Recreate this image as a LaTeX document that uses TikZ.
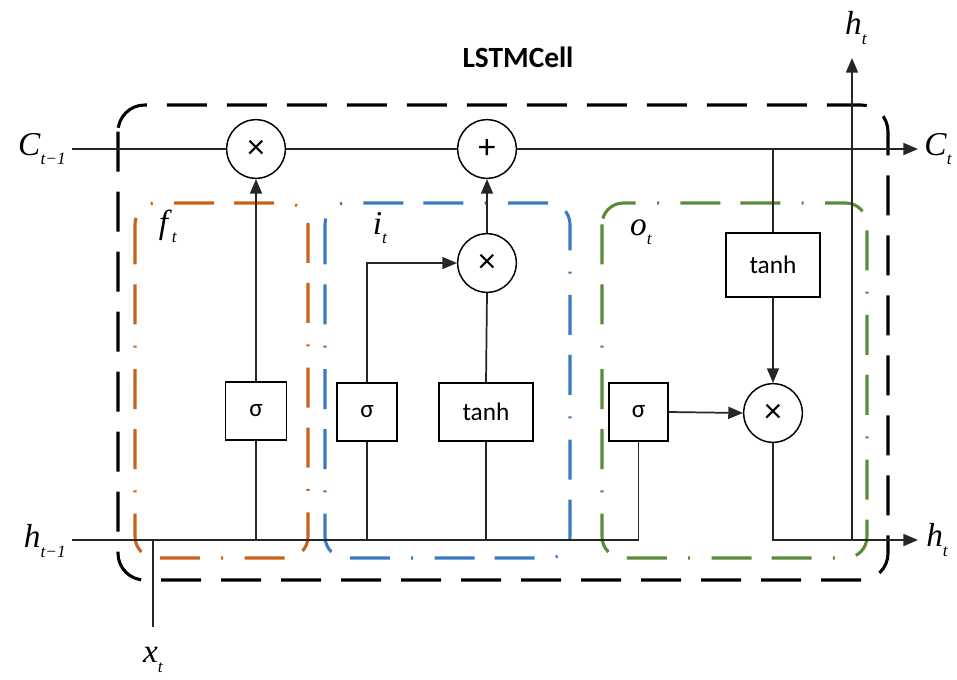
\documentclass[tikz,border=0pt]{standalone}
\usepackage{fontspec}
\setmainfont{Liberation Serif}
\newfontfamily\carl{Carlito}
\usetikzlibrary{arrows.meta}
\definecolor{cOrange}{HTML}{C8621A}
\definecolor{cBlue}{HTML}{3A7BBF}
\definecolor{cGreen}{HTML}{5B8A3A}
\newcommand\vlab[2]{\textit{#1}\raisebox{-0.6ex}{\fontsize{13}{13}\selectfont\textit{#2}}}
\begin{document}
\begin{tikzpicture}[x=0.75pt,y=-0.75pt,
  conn/.style={line width=1.3pt,black!85},
  arr/.style={conn,-{Triangle[length=11pt,width=9pt]}},
  opnode/.style={circle,draw,line width=1.1pt,minimum size=44pt,inner sep=0pt,font=\carl\fontsize{26}{26}\selectfont},
  fbox/.style={rectangle,draw,line width=1.1pt,minimum height=43.5pt,inner sep=0pt,font=\carl\fontsize{19}{19}\selectfont,fill=white},
  cellbox/.style={draw=black,line width=2.3pt,rounded corners=20pt,dash pattern=on 30pt off 15pt},
  gatebox/.style={line width=2.3pt,rounded corners=16pt,dash pattern=on 30pt off 15pt on 30pt off 16pt on 1.5pt off 16pt},
  lab/.style={font=\fontsize{25}{25}\selectfont,inner sep=0pt}
]
\useasboundingbox (0,0) rectangle (957,679);
% boxes
\draw[cellbox] (118,105) rectangle (888,580);
\draw[gatebox,draw=cOrange] (135,203) rectangle (308,558);
\draw[gatebox,draw=cBlue] (325,203) rectangle (570,558);
\draw[gatebox,draw=cGreen] (602,203) rectangle (867,558);
% title
\node[font=\carl\bfseries\fontsize{22}{22}\selectfont] (title) at (518,57) {LSTMCell};
% operators
\node[opnode] (m1) at (256,149) {×};
\node[opnode] (p1) at (487,149) {+};
\node[opnode] (m2) at (487,263) {×};
\node[opnode] (m3) at (773,413) {×};
% function boxes
\node[fbox,minimum width=46pt] (fs) at (256,411) {σ};
\node[fbox,minimum width=45pt] (is) at (367,412) {σ};
\node[fbox,minimum width=70.5pt] (it) at (486,412) {tanh};
\node[fbox,minimum width=44.5pt] (os) at (638.5,412) {σ};
\node[fbox,minimum width=70.5pt,minimum height=48pt] (ot) at (773,265) {tanh};
% end points
\coordinate (cin) at (72,149);
\coordinate (cout) at (918,149);
\coordinate (hin) at (72,540);
\coordinate (hout) at (918,540);
\coordinate (htop) at (852,58);
\coordinate (hbase) at (852,540);
\coordinate (xbase) at (153,540);
\coordinate (xend) at (153,627);
% cell state line
\draw[conn] (cin) -- (m1);
\draw[conn] (m1) -- (p1);
\draw[arr] (p1) -- (cout);
% hidden input line
\draw[conn] (hin) -| (os.south);
% forget gate
\draw[conn] (fs.south) -- (fs.south |- hin);
\draw[arr] (fs.north) -- (m1.south);
% input gate
\draw[conn] (is.south) -- (is.south |- hin);
\draw[arr] (is.north) |- (m2.west);
\draw[conn] (it.south) -- (it.south |- hin);
\draw[conn] (it.north) -- (m2.south);
\draw[arr] (m2.north) -- (p1.south);
% output gate
\draw[arr] (os.east) -- (m3.west);
\draw[conn] (ot.north) -- (ot.north |- cin);
\draw[arr] (ot.south) -- (m3.north);
\draw[arr] (m3.south) |- (hout);
\draw[arr] (hbase) -- (htop);
% x input
\draw[conn] (xbase) -- (xend);
% labels
\node[lab,anchor=east] (lc) at (66,149) {\vlab{C}{t−1}};
\node[lab,anchor=west] (lcout) at (924,149) {\vlab{C}{t}};
\node[lab,anchor=east] (lh) at (66,541) {\vlab{h}{t−1}};
\node[lab,anchor=west] (lhout) at (926,540) {\vlab{h}{t}};
\node[lab] (lhtop) at (856,28) {\vlab{h}{t}};
\node[lab] (lx) at (153,660) {\vlab{x}{t}};
\node[lab] (lf) at (168,226) {\vlab{f}{t}};
\node[lab] (li) at (380,228) {\vlab{i}{t}};
\node[lab] (lo) at (641,232) {\vlab{o}{t}};
\end{tikzpicture}
\end{document}
